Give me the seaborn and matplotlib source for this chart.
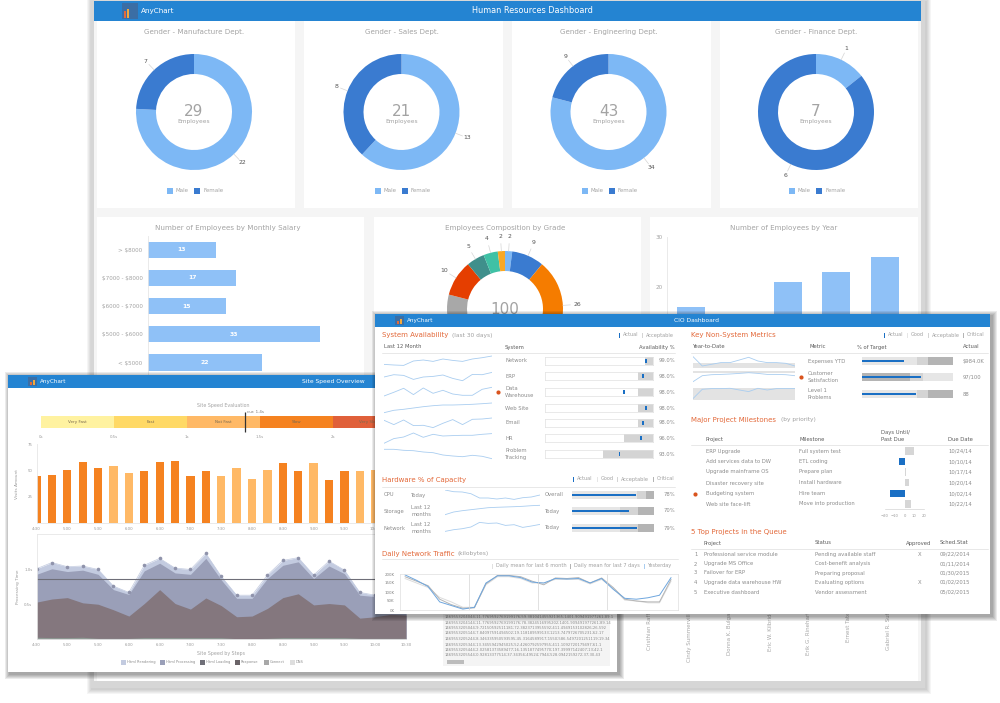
import numpy as np
import pandas as pd
import seaborn as sns
import matplotlib
matplotlib.use('Agg')
import matplotlib.pyplot as plt
from matplotlib.patches import Rectangle

W, H = 1000, 703

# ---- HR dashboard data
donut_titles = ['Gender - Manufacture Dept.', 'Gender - Sales Dept.', 'Gender - Engineering Dept.', 'Gender - Finance Dept.']
male_counts = [22, 13, 34, 1]
female_counts = [7, 8, 9, 6]
salary_cats = ['> $8000', '$7000 - $8000', '$6000 - $7000', '$5000 - $6000', '< $5000']
salary_vals = [13, 17, 15, 33, 22]
grade_vals = [2, 9, 26, 42, 10, 5, 4, 2]
year_cats = ['2010', '2011', '2012', '2013', '2014']
year_vals = [16, 14, 21, 23, 26]
person_names = ['Cristhian Rafferty', 'Cindy Summerville', 'Donna K. Bulgar', 'Eric W. Kilbride',
                'Erik G. Rinehart', 'Ernest Tate', 'Gabriel R. Sutton']

# ---- site speed data
speed_bands = ['Very Fast', 'Fast', 'Not Fast', 'Slow', 'Very Slow']
speed_current = 1.4
slots = ['4:30', '4:45', '5:00', '5:15', '5:30', '5:45', '6:00', '6:15', '6:30', '6:45', '7:00', '7:15', '7:30',
         '7:45', '8:00', '8:15', '8:30', '8:45', '9:00', '9:15', '9:30', '9:45', '10:00', '10:15', '10:30']
visits = [45, 45.5, 50, 58, 52, 54, 47, 49, 57.5, 58.5, 45, 49, 45, 52.5, 42, 50, 57, 49, 56.5, 41, 49, 49.5, 50, 47, 52]
visit_shade = ['d', 'd', 'd', 'd', 'd', 'l', 'l', 'd', 'd', 'd', 'd', 'd', 'l', 'l', 'l', 'l', 'd', 'd', 'l', 'd', 'd', 'l', 'l', 'd', 'd']
t_rendering = [1.01, 1.10, 1.04, 1.05, 1.00, .76, .67, 1.06, 1.16, 1.02, 1.00, 1.23, .90, .63, .63, .92, 1.13, 1.17, .92, 1.12, .99, .67, .63, .64, .62]
t_processing = [.93, 1.01, .97, .99, .93, .71, .64, .98, 1.09, .95, .93, 1.16, .85, .585, .585, .87, 1.06, 1.11, .87, 1.05, .94, .63, .61, .60, .58]
t_loading = [.53, .575, .595, .52, .50, .42, .33, .51, .71, .51, .43, .59, .48, .32, .33, .44, .595, .65, .49, .51, .49, .30, .32, .355, .345]
t_connect = [.025, .02, .02, .025, .01, .01, .01, .02, .02, .02, .02, .02, .02, .005, .005, .01, .02, .02, .02, .02, .02, .01, .01, .01, .01]
t_limit = 0.87
step_names = ['Html Rendering', 'Html Processing', 'Html Loading', 'Response', 'Connect', 'DNS']
log_lines = ['1469553204044;11.7769592769199176;59.381041455921365;1401.909491977261;89.1',
             '1469553204144;11.7769592769199176;78.3824516995202;1401.909491977261;89.14',
             '1469553205044;9.72150592511181;72.3823713955592;411.4949153102826;26.592',
             '1469553205144;7.84097591494502;19.118189599133;1213.7479726705231;62.17',
             '1469553205244;8.346335950593595;45.3164589917;1550;586.5497201251119;19.34',
             '1469553205344;13.3455942945025;52.4260792597955;411.1092720179497;61.1',
             '1469553205444;2.02581373589477;16.1351877495770;197.39997142407;13;42.1',
             '1469553205544;0.92813377514;37.34356;49524;7944;528.0942159272;37;30.43']

# ---- CIO data
sys_names = ['Network', 'ERP', 'Data\nWarehouse', 'Web Site', 'Email', 'HR', 'Problem\nTracking']
sys_labels = ['99.0%', '98.0%', '98.0%', '98.0%', '98.0%', '96.0%', '93.0%']
sys_actual = [98.8, 98.2, 94.7, 98.8, 98.2, 97.8, 93.8]
sys_accept = [98.6, 97.3, 97.3, 97.3, 97.3, 94.7, 90.7]
sys_spark = [[2.3, 1.7, 1.3, 5.7, 6.7, 5.3, 7.7, 6.3, 5.3, 7.7, 9, 10.7],
             [4.7, 7, 6.3, 2.3, 4.7, 5.3, 6.7, 3.3, 1, 7.3, 7, 9.3],
             [1.3, 5, 9, 2.7, 9.3, 4, 7, 3.3, 2, 2, 8, 10],
             [1.3, 3.7, 4.7, 6, 7.3, 8.3, 9, 9, 9.3, 9.7, 10.3, 11],
             [9, 4.7, 9.3, 3.7, 4, 1.7, 6, 9.7, 4.7, 10, 10.3, 11.3],
             [1, 5.7, 7.3, 11.3, 7, 10, 8.3, 8.7, 9, 9, 10, 10.7],
             [10.7, 10.7, 9.7, 9.3, 8, 7.3, 5, 4, 3.3, 4.7, 3.7, 1.3]]
hw_names = ['CPU', 'Storage', 'Network']
hw_periods = ['Today', 'Last 12\nmonths', 'Last 12\nmonths']
hw_scope = ['Overall', 'Today', 'Today']
hw_actual = [78, 70, 79]
hw_good = [79, 59, 59]
hw_accept = [90, 80, 80]
hw_spark = [[11.7, 10, 9.7, 8, 3.7, 3.7, 2.7, 3.7, 2.3, 4, 4.7, 6.7],
            [1.3, 4, 5.3, 6.3, 7.3, 8.3, 8.7, 9, 9.3, 9.7, 10.3, 10.7],
            [1.3, 3, 4, 5.7, 10.3, 9.3, 9.7, 7.3, 8, 5.3, 6.7, 8.3]]
traffic_yesterday = [195, 165, 130, 45, 25, 5, 15, 150, 190, 190, 180, 155, 150, 175, 172, 175, 150, 175, 115, 65, 60, 68, 82, 180]
traffic_week = [185, 160, 135, 60, 30, 10, 12, 145, 192, 192, 185, 160, 140, 178, 175, 180, 150, 178, 125, 60, 50, 45, 45, 170]
traffic_halfyear = [175, 150, 125, 70, 45, 15, 15, 140, 185, 185, 175, 150, 150, 170, 170, 170, 145, 170, 120, 55, 50, 40, 40, 160]
metric_names = ['Expenses YTD', 'Customer\nSatisfaction', 'Level 1\nProblems']
metric_labels = ['$984.0K', '97/100', '88']
metric_actual = [46, 65, 59]
metric_band1 = [60, 53, 60]
metric_band2 = [73, 67, 73]
metric_spark = [[11.7, 2.3, 4, 5.7, 5.7, 8.3, 11, 7.3, 5.7, 5.7, 5, 2.3],
                [1, 7, 8, 8.3, 8.7, 9.3, 10, 9.3, 8.3, 8.3, 8, 7],
                [1.7, 11, 11.7, 11.7, 12, 10.3, 8.7, 12, 10.3, 11.7, 11.7, 11.7]]
mile_projects = ['ERP Upgrade', 'Add services data to DW', 'Upgrade mainframe OS', 'Disaster recovery site', 'Budgeting system', 'Web site face-lift']
mile_steps = ['Full system test', 'ETL coding', 'Prepare plan', 'Install hardware', 'Hire team', 'Move into production']
mile_days = [10, -6, 2, 5, -15, 7]
mile_dates = ['10/24/14', '10/10/14', '10/17/14', '10/20/14', '10/02/14', '10/22/14']
top_projects = ['Professional service module', 'Upgrade MS Office', 'Failover for ERP', 'Upgrade data warehouse HW', 'Executive dashboard']
top_status = ['Pending available staff', 'Cost-benefit analysis', 'Preparing proposal', 'Evaluating options', 'Vendor assessment']
top_approved = ['X', '', '', 'X', '']
top_dates = ['09/22/2014', '01/11/2014', '01/30/2015', '01/02/2015', '05/02/2015']

HEAD = '#2484d2'
MALE = '#7db8f5'
FEMALE = '#3a7bd0'
BAR = '#8fc1f7'
ORANGE = '#e3693a'
BLUE = '#1a6fc4'
GREY = '#8c8c8c'
DARK = '#5c5c5c'
SPARK = '#a9cdf0'

sns.set_theme(style='white')
plt.rcParams['font.family'] = ['DejaVu Sans']
plt.rcParams['text.parse_math'] = False
plt.rcParams['patch.force_edgecolor'] = False
plt.rcParams['patch.linewidth'] = 0
fig = plt.figure(figsize=(W / 100, H / 100), dpi=100, facecolor='white')


def layer(z):
    ax = fig.add_axes([0, 0, 1, 1], zorder=z)
    ax.set_xlim(0, W)
    ax.set_ylim(H, 0)
    ax.axis('off')
    ax.patch.set_alpha(0)
    return ax


def sub(x0, y0, x1, y1, z):
    ax = fig.add_axes([x0 / W, 1 - y1 / H, (x1 - x0) / W, (y1 - y0) / H], zorder=z)
    ax.patch.set_alpha(0)
    return ax


def box(ax, x0, y0, x1, y1, color, **kw):
    ax.add_patch(Rectangle((x0, y0), x1 - x0, y1 - y0, facecolor=color, edgecolor='none', **kw))


def shadow(ax, x0, y0, x1, y1, off=3, alpha=.07):
    for d in range(5, 0, -1):
        box(ax, x0 - d + off, y0 - d + off, x1 + d + off, y1 + d + off, 'black', alpha=alpha)


def header(ax, x0, x1, y0, y1, title, title_x, logo_x, fs_logo, fs_title):
    box(ax, x0, y0, x1, y1, HEAD)
    box(ax, logo_x, y0 + 2, logo_x + (y1 - y0) - 4, y1 - 2, '#3b6ea5')
    box(ax, logo_x + 2, (y0 + y1) / 2, logo_x + 4, y1 - 3, '#e3693a')
    box(ax, logo_x + 5, (y0 + y1) / 2 - 2, logo_x + 7, y1 - 3, '#f2a93b')
    ax.text(logo_x + (y1 - y0) - 1, (y0 + y1) / 2, 'AnyChart', color='white', fontsize=fs_logo, va='center')
    ax.text(title_x, (y0 + y1) / 2 - .5, title, color='white', fontsize=fs_title, va='center', ha='center')


def donut(cx, cy, vals, colors, z, label_r=1.21, hidden=()):
    ax = sub(cx - 81.2, cy - 81.2, cx + 81.2, cy + 81.2, z)
    ax.pie(vals, colors=colors, startangle=90, counterclock=False, radius=1,
           wedgeprops=dict(width=.345, linewidth=0))
    ax.set_xlim(-1.4, 1.4)
    ax.set_ylim(-1.4, 1.4)
    edges = np.cumsum([0] + list(vals)) / sum(vals) * 2 * np.pi
    for i, v in enumerate(vals):
        if i in hidden:
            continue
        mid = (edges[i] + edges[i + 1]) / 2
        sx, sy = np.sin(mid), np.cos(mid)
        ax.plot([sx, 1.13 * sx], [sy, 1.13 * sy], color='#d5d5d5', lw=.5)
        ax.text(label_r * sx, label_r * sy, str(v), fontsize=4.4, color='#555555', ha='center', va='center')
    return ax


def strip(ax, color='#e6e6e6'):
    sns.despine(ax=ax, top=True, right=True, left=False, bottom=False)
    for s in ax.spines.values():
        s.set_color(color)
        s.set_linewidth(.6)


def spark(x0, x1, base, height, vals, z, band=None):
    ax = sub(x0, base - height, x1, base, z)
    if band is not None:
        ax.axhspan(band[0], band[1], color='#e3e3e3', lw=0)
    sns.lineplot(x=np.arange(len(vals)), y=vals, color=SPARK, lw=.6, ax=ax)
    ax.set_xlim(0, len(vals) - 1)
    ax.set_ylim(0, height)
    ax.axis('off')


def legend_ticks(ax, items, y):
    for x, label, col in items:
        box(ax, x, y - 2.5, x + 1.2, y + 2.5, col)
        ax.text(x + 3.5, y, label, fontsize=3.6, color='#a0a0a0', va='center')


def hide_axes(ax):
    ax.set_xticks([])
    ax.set_yticks([])
    ax.set_xlabel('')
    ax.set_ylabel('')
    for s in ax.spines.values():
        s.set_visible(False)


# ============ HR window
hr = layer(10)
shadow(hr, 91, 1, 925, 688, off=1, alpha=.04)
box(hr, 91, 1, 925, 688, '#d6d6d6')
box(hr, 94, 1, 921, 681, '#f5f5f5')
header(hr, 94, 921, 1, 21, 'Human Resources Dashboard', 532, 122, 5.2, 5.9)
for x0, x1 in [(97, 295), (304, 503), (512, 711), (720, 918)]:
    box(hr, x0, 21, x1, 208, 'white')
for x0, x1 in [(97, 364), (374, 641), (650, 918)]:
    box(hr, x0, 217, x1, 410, 'white')
box(hr, 97, 420, 918, 681, 'white')

centers = [194, 401.5, 608.5, 816]
for cx, title, m, f in zip(centers, donut_titles, male_counts, female_counts):
    hr.text(cx, 32, title, fontsize=5.1, color='#a3a3a3', ha='center', va='center')
    donut(cx, 112, [m, f], [MALE, FEMALE], 11)
    hr.text(cx, 112, str(m + f), fontsize=11, color='#a3a3a3', ha='center', va='center', zorder=5)
    hr.text(cx, 121.5, 'Employees', fontsize=4.2, color='#a3a3a3', ha='center', va='center', zorder=5)
    box(hr, cx - 27, 188, cx - 21, 194, MALE)
    hr.text(cx - 18, 191, 'Male', fontsize=4, color='#a3a3a3', va='center')
    box(hr, cx, 188, cx + 6, 194, FEMALE)
    hr.text(cx + 9, 191, 'Female', fontsize=4, color='#a3a3a3', va='center')

hr.text(228, 228, 'Number of Employees by Monthly Salary', fontsize=5.15, color='#a3a3a3', ha='center', va='center')
ax = sub(148, 235.6, 356, 376.6, 11)
sns.barplot(x=salary_vals, y=salary_cats, color=BAR, saturation=1, width=.57, orient='h', ax=ax)
ax.bar_label(ax.containers[0], label_type='center', color='white', fontsize=4.4, fontweight='bold')
ax.set_xlim(0, 40)
ax.set_xticks([])
ax.set_ylim(4.5, -.5)
ax.set_xlabel('')
ax.set_ylabel('')
ax.tick_params(axis='y', labelsize=4.1, labelcolor='#a3a3a3', length=0, pad=4)
strip(ax)
ax.spines['bottom'].set_visible(False)

hr.text(505, 228, 'Employees Composition by Grade', fontsize=5.15, color='#a3a3a3', ha='center', va='center')
grade_colors = [MALE, FEMALE, '#f57c00', '#a8a8a8', '#e53e00', '#3f8f8b', '#3fc1a5', '#f9a825']
donut(505, 309, grade_vals, grade_colors, 11, label_r=1.25, hidden=(3,))
hr.text(505, 309, '100', fontsize=11, color='#a3a3a3', ha='center', va='center', zorder=5)

hr.text(784, 228, 'Number of Employees by Year', fontsize=5.15, color='#a3a3a3', ha='center', va='center')
ax = sub(667, 237, 909, 387, 11)
sns.barplot(x=year_cats, y=year_vals, color=BAR, saturation=1, width=.58, ax=ax)
ax.set_xlim(-.5, 4.5)
ax.set_ylim(0, 30)
ax.set_yticks([20, 30])
ax.set_xticks([])
ax.set_xlabel('')
ax.set_ylabel('')
ax.tick_params(axis='y', labelsize=4.1, labelcolor='#a3a3a3', length=0, pad=3)
strip(ax)

for x, y, name in zip([650, 690, 730, 770, 809, 849, 888], [650, 662, 655, 651, 655, 642, 650], person_names):
    hr.text(x, y, name, fontsize=4.0, color='#a8a8a8', rotation=90, ha='center', va='bottom')

# ============ Site speed window
site = layer(20)
shadow(site, 8, 375, 617, 672, off=1.5, alpha=.08)
box(site, 8, 375, 617, 672, 'white')
header(site, 8, 617, 375, 388, 'Site Speed Overview', 333, 28, 4.1, 4.3)
site.text(223, 406, 'Site Speed Evaluation', fontsize=3.4, color='#a3a3a3', ha='center', va='center')

ax = sub(41, 416, 406, 428, 21)
band_df = pd.DataFrame({'band': speed_bands, 'from': np.arange(5) * .5})
ax.barh(0, .5, left=band_df['from'], height=1, color=['#fff2a0', '#ffd966', '#ffb966', '#f58220', '#e0603a'])
for name, start in zip(band_df['band'], band_df['from']):
    ax.text(start + .25, 0, name, fontsize=3, color='#7a6a50', ha='center', va='center')
ax.set_xlim(0, 2.5)
ax.set_ylim(-.5, .5)
ax.vlines(speed_current, -.85, .85, color='#333333', lw=.9, clip_on=False)
ax.text(speed_current + .01, .85, 'cur. 1.4s', fontsize=2.9, color='#777777', va='center')
hide_axes(ax)
ax.set_xticks([0, .5, 1, 1.5, 2])
ax.set_xticklabels(['0s', '0.5s', '1s', '1.5s', '2s'])
ax.tick_params(axis='x', labelsize=2.8, labelcolor='#999999', length=0, pad=5)

ax = sub(36.5, 444, 406, 523, 21)
sns.barplot(x=slots, y=visits, hue=visit_shade, palette={'d': '#f58220', 'l': '#ffb966'}, dodge=False,
            saturation=1, width=.54, legend=False, ax=ax)
ax.set_xlim(0, 24)
ax.set_ylim(0, 75)
ax.set_yticks([25, 50, 75])
# the last labels sit behind the CIO window
ax.set_xticks(range(0, 23, 2))
ax.set_xticklabels(slots[:23:2])
ax.set_xlabel('')
ax.set_ylabel('Visits Amount', fontsize=3.2, color='#999999', labelpad=6)
ax.tick_params(axis='both', labelsize=2.8, labelcolor='#999999', length=0, pad=3)
strip(ax)

ax = sub(36.5, 534, 406, 639, 21)
xs = np.arange(len(slots))
ax.fill_between(xs, t_rendering, color='#c3cbe0', lw=0)
ax.fill_between(xs, t_processing, color='#9a9fb8', lw=0)
ax.fill_between(xs, t_loading, color='#84777e', lw=0)
ax.fill_between(xs, t_connect, color='#8e9a94', lw=0)
sns.lineplot(x=xs, y=t_rendering, color='#c3cbe0', lw=.5, marker='o', markersize=2.6,
             markerfacecolor='#8f93ab', markeredgewidth=0, ax=ax)
ax.axhline(t_limit, color='#6e6e78', lw=.8)
ax.set_xlim(0, 24)
ax.set_ylim(0, 1.51)
ax.set_yticks([.5, 1])
ax.set_yticklabels(['0.5s', '1.0s'])
ax.set_xticks(range(0, 25, 2))
ax.set_xticklabels(slots[::2])
ax.set_xlabel('Site Speed by Steps', fontsize=3.4, color='#a3a3a3', labelpad=3)
ax.set_ylabel('Processing Time', fontsize=3.1, color='#999999', labelpad=3)
ax.tick_params(axis='both', labelsize=2.8, labelcolor='#999999', length=0, pad=3)
for s in ax.spines.values():
    s.set_color('#e6e6e6')
    s.set_linewidth(.6)
ax.spines['right'].set_visible(False)

step_colors = ['#c3cbe0', '#9a9fb8', '#6f6f78', '#6b6468', '#a8a8a8', '#dedede']
for x, name, col in zip([121, 160, 200, 235, 264, 290], step_names, step_colors):
    box(site, x, 660, x + 4.5, 664.5, col)
    site.text(x + 6, 662.3, name, fontsize=2.6, color='#8c8c8c', va='center')

# log table under the charts
box(site, 443, 614, 610, 666, '#f4f4f4')
for y, line in zip([617, 622.5, 628, 633.5, 639, 644.5, 650, 655], log_lines):
    site.text(445, y, line, fontsize=2.7, color='#8a8a8a', va='center')
box(site, 447, 660, 464, 664, '#bcbcbc')

# ============ CIO window
cio = layer(30)
shadow(cio, 375, 314, 990, 614, off=1.5, alpha=.08)
box(cio, 375, 314, 990, 614, 'white')
header(cio, 375, 990, 314, 327, 'CIO Dashboard', 696, 395, 4.1, 4.3)
TITLE = 5.0
BODY = 3.8


def section(x, y, title, note=None, note_x=None):
    cio.text(x, y, title, fontsize=TITLE, color=ORANGE, va='center')
    if note:
        cio.text(note_x, y, note, fontsize=4.2, color='#a0a0a0', va='center')


def rule(x0, x1, y, col='#e4e4e4'):
    cio.plot([x0, x1], [y, y], color=col, lw=.6)


section(382, 335, 'System Availability', '(last 30 days)', 452)
legend_ticks(cio, [(619, 'Actual', BLUE), (642, 'Acceptable', '#d4d4d4')], 335)
for x, name in [(384, 'Last 12 Month'), (505, 'System')]:
    cio.text(x, 347, name, fontsize=BODY, color=DARK, va='center')
cio.text(675, 347, 'Availability %', fontsize=BODY, color=DARK, va='center', ha='right')
rule(382, 675, 353)
for i, y in enumerate([361, 376, 392, 408, 423, 438, 454]):
    base = [366.7, 381.7, 397.3, 414, 429.3, 444.3, 460][i]
    spark(384, 492, base, 12, sys_spark[i], 31)
    cio.text(505, y, sys_names[i], fontsize=BODY, color=GREY, va='center', linespacing=1.5)
    cio.text(675, y, sys_labels[i], fontsize=BODY, color=GREY, va='center', ha='right')
    ax = sub(545.3, y - 4, 652.7, y + 4, 31)
    ax.barh(0, 100 - sys_accept[i], left=sys_accept[i], height=1, color='#d4d4d4')
    ax.barh(0, .3, left=sys_actual[i] - .15, height=.6, color=BLUE)
    ax.set_xlim(80, 100)
    ax.set_ylim(-.5, .5)
    hide_axes(ax)
    for s in ax.spines.values():
        s.set_visible(True)
        s.set_color('#e0e0e0')
        s.set_linewidth(.5)
cio.plot([498], [392], 'o', color='#d9541e', ms=3, mew=0)

section(382, 480, 'Hardware % of Capacity')
legend_ticks(cio, [(573, 'Actual', BLUE), (597, 'Good', '#e6e6e6'), (617, 'Acceptable', '#d4d4d4'), (653, 'Critical', '#b4b4b4')], 479)
rule(382, 675, 487)
for i, y in enumerate([495, 511, 528]):
    base = [501.7, 516, 532.7][i]
    spark(445, 540, base, 12, hw_spark[i], 31)
    cio.text(384, y, hw_names[i], fontsize=BODY, color=GREY, va='center')
    cio.text(411, y, hw_periods[i], fontsize=BODY, color=GREY, va='center', linespacing=1.5)
    cio.text(545, y, hw_scope[i], fontsize=BODY, color=GREY, va='center')
    cio.text(675, y, '%d%%' % hw_actual[i], fontsize=BODY, color=GREY, va='center', ha='right')
    ax = sub(572, y - 4, 654, y + 4, 31)
    ax.barh(0, hw_good[i], height=1, color='#e6e6e6')
    ax.barh(0, hw_accept[i] - hw_good[i], left=hw_good[i], height=1, color='#d4d4d4')
    ax.barh(0, 100 - hw_accept[i], left=hw_accept[i], height=1, color='#b4b4b4')
    ax.barh(0, hw_actual[i], height=.3, color=BLUE)
    ax.set_xlim(0, 100)
    ax.set_ylim(-.5, .5)
    hide_axes(ax)

section(382, 553.7, 'Daily Network Traffic', '(kilobytes)', 458)
rule(382, 678, 559)
legend_ticks(cio, [(492, 'Daily mean for last 6 month', '#e0e0e0'), (570, 'Daily mean for last 7 days', '#b4b4b4'), (644, 'Yesterday', SPARK)], 566)
ax = sub(400, 574, 678, 610, 31)
tx = np.arange(len(traffic_yesterday))
sns.lineplot(x=tx, y=traffic_halfyear, color='#dcdcdc', lw=.7, ax=ax)
sns.lineplot(x=tx, y=traffic_week, color='#b4b4b4', lw=.7, ax=ax)
sns.lineplot(x=tx, y=traffic_yesterday, color='#6ea6de', lw=.7, ax=ax)
for v in [5.5, 11.5, 17.5]:
    ax.axvline(v, color='#d5d5d5', lw=.5)
ax.set_xlim(-.43, 23.6)
ax.set_ylim(0, 200)
ax.set_yticks([0, 50, 100, 150, 200])
ax.set_yticklabels(['0K', '50K', '100K', '150K', '200K'])
ax.set_xticks([])
ax.tick_params(axis='y', labelsize=2.9, labelcolor='#808080', length=0, pad=4)
for s in ax.spines.values():
    s.set_color('#dedede')
    s.set_linewidth(.5)

section(691, 335, 'Key Non-System Metrics')
legend_ticks(cio, [(884, 'Actual', BLUE), (907, 'Good', '#e6e6e6'), (928, 'Acceptable', '#d4d4d4'), (963, 'Critical', '#b4b4b4')], 335)
for x, name in [(693, 'Year-to-Date'), (809, 'Metric'), (857, '% of Target'), (963, 'Actual')]:
    cio.text(x, 347, name, fontsize=BODY, color=DARK, va='center')
rule(691, 988, 353)
metric_bands = [(0, 5), (10, 11.7), (0, 12.7)]
for i, y in enumerate([361, 377, 394]):
    base = [368.3, 382.7, 400.3][i]
    spark(693, 795, base, 13, metric_spark[i], 31, band=metric_bands[i])
    cio.text(808, y, metric_names[i], fontsize=BODY, color=GREY, va='center', linespacing=1.5)
    cio.text(963, y, metric_labels[i], fontsize=BODY, color=GREY, va='center')
    ax = sub(862, y - 4.3, 953, y + 4.3, 31)
    cols = ['#e6e6e6', '#d4d4d4', '#b4b4b4'] if i != 1 else ['#b4b4b4', '#d4d4d4', '#e6e6e6']
    ax.barh(0, metric_band1[i], height=1, color=cols[0])
    ax.barh(0, metric_band2[i] - metric_band1[i], left=metric_band1[i], height=1, color=cols[1])
    ax.barh(0, 100 - metric_band2[i], left=metric_band2[i], height=1, color=cols[2])
    ax.barh(0, metric_actual[i], height=.3, color=BLUE)
    ax.set_xlim(0, 100)
    ax.set_ylim(-.5, .5)
    hide_axes(ax)
cio.plot([801], [377], 'o', color='#d9541e', ms=3, mew=0)

section(691, 420, 'Major Project Milestones', '(by priority)', 781)
cio.text(881, 436, 'Days Until/\nPast Due', fontsize=BODY, color=DARK, va='center', linespacing=1.5)
for x, name in [(706, 'Project'), (799, 'Milestone'), (948, 'Due Date')]:
    cio.text(x, 439.5, name, fontsize=BODY, color=DARK, va='center')
rule(691, 988, 445)
mile_y = [451, 461.5, 472, 483, 493.5, 504]
for y, p, s, d in zip(mile_y, mile_projects, mile_steps, mile_dates):
    cio.text(706, y, p, fontsize=BODY, color=GREY, va='center')
    cio.text(799, y, s, fontsize=BODY, color=GREY, va='center')
    cio.text(948, y, d, fontsize=BODY, color=GREY, va='center')
cio.plot([695], [494], 'o', color='#d9541e', ms=3, mew=0)
ax = sub(885, 445.7, 924, 509.2, 31)
mile_state = ['late' if d < 0 else 'ok' for d in mile_days]
sns.barplot(x=mile_days, y=mile_projects, hue=mile_state, palette={'late': BLUE, 'ok': '#d6d6d6'}, dodge=False,
            saturation=1, width=.7, orient='h', legend=False, ax=ax)
ax.set_xlim(-20, 20)
ax.set_ylim(5.5, -.5)
ax.set_yticks([])
ax.set_xticks([-20, -10, 0, 10, 20])
ax.set_xlabel('')
ax.set_ylabel('')
ax.tick_params(axis='x', labelsize=2.7, labelcolor='#999999', length=1.5, width=.4, color='#cccccc', pad=2)
for side in ['top', 'left', 'right']:
    ax.spines[side].set_visible(False)
ax.spines['bottom'].set_color('#d5d5d5')
ax.spines['bottom'].set_linewidth(.5)

section(691, 532, '5 Top Projects in the Queue')
for x, name in [(704, 'Project'), (815, 'Status'), (906, 'Approved'), (940, 'Sched.Stat')]:
    cio.text(x, 543, name, fontsize=BODY, color=DARK, va='center')
rule(691, 988, 549)
for i, y in enumerate([554.5, 564, 573, 582.5, 592]):
    cio.text(694, y, str(i + 1), fontsize=BODY, color=GREY, va='center')
    cio.text(704, y, top_projects[i], fontsize=BODY, color=GREY, va='center')
    cio.text(815, y, top_status[i], fontsize=BODY, color=GREY, va='center')
    cio.text(918, y, top_approved[i], fontsize=BODY, color=GREY, va='center')
    cio.text(940, y, top_dates[i], fontsize=BODY, color=GREY, va='center')

fig.savefig('out.png', dpi=100)
